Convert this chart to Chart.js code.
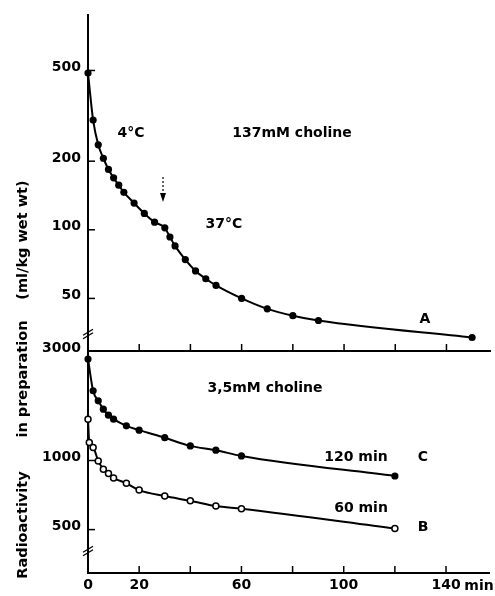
<!DOCTYPE html>
<html><head><meta charset="utf-8">
<script src="https://cdn.jsdelivr.net/npm/chart.js@4/dist/chart.umd.min.js"></script>
<style>
html,body{margin:0;padding:0;background:#fff;}
#wrap{position:relative;width:495px;height:596px;overflow:hidden;background:#fff;}
canvas{position:absolute;left:0;}
.yt{position:absolute;left:22px;font:bold 14.5px "DejaVu Sans";white-space:nowrap;transform:translate(-50%,-50%) rotate(-90deg);color:#000;}
</style></head><body>
<div id="wrap">
<canvas id="cTop" width="495" height="372" style="top:0;width:495px;height:372px"></canvas>
<canvas id="cBot" width="495" height="266" style="top:330px;width:495px;height:266px"></canvas>
<div class="yt" style="top:525px">Radioactivity</div>
<div class="yt" style="top:379px">in preparation</div>
<div class="yt" style="top:240px">(ml/kg wet wt)</div>
</div>
<script>
// ---- data ----
const timesA  = [0,2,4,6,8,10,12,14,18,22,26,30,32,34,38,42,46,50,60,70,80,90,150];
const valuesA = [487,303,236,206,184,169,157,146,131,118,108,102,93,85,74,66,61,57,50,45,42,40,33.7];
const timesC  = [0,2,4,6,8,10,15,20,30,40,50,60,120];
const valuesC = [2769,2013,1820,1674,1576,1514,1416,1356,1257,1158,1109,1047,856];
const timesB  = [0,0.5,2,4,6,8,10,15,20,30,40,50,60,120];
const valuesB = [1514,1198,1139,996,916,877,839,796,743,700,668,633,617,506];
const xTicks  = [0,20,40,60,80,100,120,140];
const xLabels = ['0','20','','60','','100','','140'];
const topTicks = [50,100,200,500];
const botTicks = [500,1000,3000];

Chart.defaults.font.family = '"DejaVu Sans", sans-serif';
Chart.defaults.font.size = 14;
Chart.defaults.font.weight = 'bold';
Chart.defaults.color = '#000';

const FONT = 'bold 14px "DejaVu Sans"';
const pts = (xs, ys) => xs.map((t, i) => ({x: t, y: ys[i]}));

function decor(yTicks, texts, extra) {
  return {
    id: 'decor',
    afterDraw(chart) {
      const {ctx, chartArea: a, scales: {x, y}} = chart;
      ctx.save();
      ctx.strokeStyle = '#000';
      ctx.lineWidth = 1.5;
      xTicks.forEach(v => {
        const px = x.getPixelForValue(v);
        ctx.beginPath(); ctx.moveTo(px, a.bottom); ctx.lineTo(px, a.bottom - 7); ctx.stroke();
      });
      yTicks.forEach(v => {
        if (v >= y.max) return;
        const py = y.getPixelForValue(v);
        ctx.beginPath(); ctx.moveTo(a.left, py); ctx.lineTo(a.left + 7, py); ctx.stroke();
      });
      ctx.fillStyle = '#000';
      ctx.font = FONT;
      ctx.textAlign = 'center';
      ctx.textBaseline = 'middle';
      texts.forEach(([s, px, py]) => ctx.fillText(s, px, py));
      if (extra) extra(ctx, a);
      ctx.restore();
    }
  };
}

function breakMark(ctx, cx, cy) {
  ctx.lineWidth = 1.3;
  [-1.8, 1.8].forEach(o => {
    ctx.beginPath();
    ctx.moveTo(cx - 5, cy + 3 + o);
    ctx.lineTo(cx + 5, cy - 3 + o);
    ctx.stroke();
  });
}

function yScale(min, max, ticks) {
  return {
    type: 'logarithmic', min, max,
    afterBuildTicks: s => { s.ticks = ticks.map(v => ({value: v})); },
    afterFit: s => { s.width = 88; },
    ticks: {callback: v => String(v), padding: 7, labelOffset: -3, font: {size: 14, weight: 'bold'}},
    grid: {display: true, drawOnChartArea: false, drawTicks: false},
    border: {display: true, color: '#000', width: 2}
  };
}

function xScale(showLabels, h) {
  return {
    type: 'linear', min: 0, max: 157,
    afterBuildTicks: s => { s.ticks = xTicks.map(v => ({value: v})); },
    afterFit: s => { s.height = h; },
    ticks: {display: showLabels, padding: 4, callback: (v, i) => xLabels[i], maxRotation: 0, autoSkip: false},
    grid: {display: true, drawOnChartArea: false, drawTicks: false},
    border: {display: true, color: '#000', width: 2}
  };
}

const common = {
  responsive: false, animation: false,
  plugins: {legend: {display: false}, tooltip: {enabled: false}},
};

// top panel: 137 mM choline
new Chart(document.getElementById('cTop'), {
  type: 'line',
  data: {datasets: [{
    data: pts(timesA, valuesA),
    borderColor: '#000', borderWidth: 2, backgroundColor: '#000',
    pointRadius: 3.6, pointBackgroundColor: '#000', pointBorderWidth: 0,
    cubicInterpolationMode: 'monotone', clip: false
  }]},
  options: Object.assign({}, common, {
    layout: {padding: {left: 0, right: 5, top: 13, bottom: 0}},
    scales: {x: xScale(false, 21), y: yScale(29.4, 872, topTicks)}
  }),
  plugins: [decor(topTicks, [
    ['4°C', 131, 133], ['137mM choline', 292, 133], ['37°C', 224, 224], ['A', 425, 319]
  ], (ctx, a) => {
    // arrow marking the temperature change
    ctx.lineWidth = 1.2;
    ctx.setLineDash([2, 2]);
    ctx.beginPath(); ctx.moveTo(163, 177); ctx.lineTo(163, 194); ctx.stroke();
    ctx.setLineDash([]);
    ctx.beginPath(); ctx.moveTo(160, 193); ctx.lineTo(166, 193); ctx.lineTo(163, 202); ctx.closePath(); ctx.fill();
    breakMark(ctx, a.left, 334);
  })]
});

// bottom panel: 3.5 mM choline
new Chart(document.getElementById('cBot'), {
  type: 'line',
  data: {datasets: [
    {data: pts(timesC, valuesC), borderColor: '#000', borderWidth: 2,
     pointRadius: 3.6, pointBackgroundColor: '#000', pointBorderWidth: 0,
     cubicInterpolationMode: 'monotone', clip: false},
    {data: pts(timesB, valuesB), borderColor: '#000', borderWidth: 2,
     pointRadius: 3, pointBackgroundColor: '#fff', pointBorderColor: '#000', pointBorderWidth: 1.5,
     cubicInterpolationMode: 'monotone', clip: false}
  ]},
  options: Object.assign({}, common, {
    layout: {padding: {left: 0, right: 5, top: 21, bottom: 0}},
    scales: {x: xScale(true, 23), y: yScale(323.5, 3000, botTicks)}
  }),
  plugins: [decor(botTicks, [
    ['3,5mM choline', 265, 58], ['120 min', 356, 127], ['C', 423, 127],
    ['60 min', 361, 178], ['B', 423, 197], ['min', 479, 256]
  ], (ctx, a) => { breakMark(ctx, a.left, 221); })]
});
</script>
</body></html>
